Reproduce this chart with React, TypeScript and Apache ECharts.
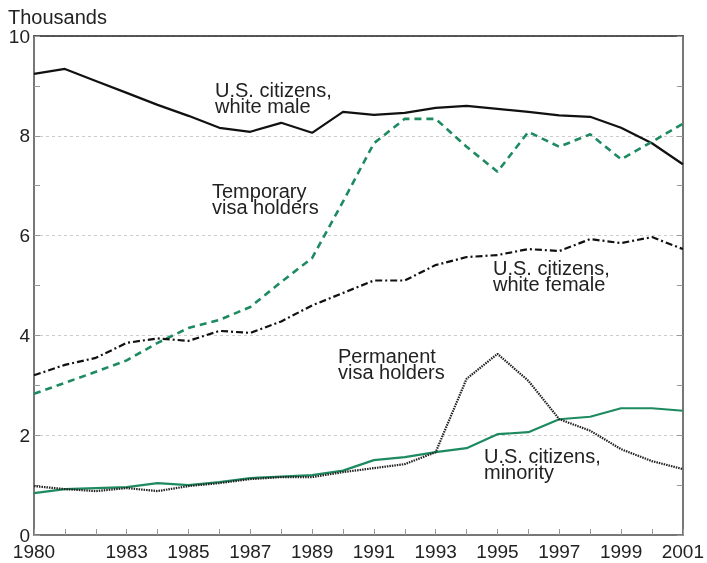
import React, { useEffect, useRef } from "react";
import * as echarts from "echarts";

const years = [1980, 1981, 1982, 1983, 1984, 1985, 1986, 1987, 1988, 1989, 1990, 1991, 1992, 1993, 1994, 1995, 1996, 1997, 1998, 1999, 2000, 2001];
const xTickLabels = [1980, 1983, 1985, 1987, 1989, 1991, 1993, 1995, 1997, 1999, 2001];
const yTickLabels = [0, 2, 4, 6, 8, 10];

const whiteMale = [9.24, 9.34, 9.1, 8.86, 8.62, 8.4, 8.16, 8.08, 8.26, 8.06, 8.48, 8.42, 8.46, 8.56, 8.6, 8.54, 8.48, 8.41, 8.38, 8.16, 7.85, 7.43];
const temporaryVisa = [2.83, 3.05, 3.27, 3.5, 3.85, 4.15, 4.31, 4.57, 5.07, 5.55, 6.68, 7.85, 8.34, 8.34, 7.78, 7.28, 8.08, 7.78, 8.03, 7.53, 7.88, 8.24];
const whiteFemale = [3.2, 3.41, 3.55, 3.85, 3.94, 3.89, 4.09, 4.05, 4.28, 4.6, 4.85, 5.1, 5.1, 5.41, 5.57, 5.61, 5.73, 5.69, 5.93, 5.85, 5.97, 5.73];
const minority = [0.84, 0.92, 0.94, 0.96, 1.04, 1.0, 1.06, 1.14, 1.17, 1.2, 1.29, 1.5, 1.56, 1.66, 1.74, 2.02, 2.06, 2.32, 2.37, 2.54, 2.54, 2.49];
const permanentVisa = [0.98, 0.92, 0.88, 0.94, 0.88, 0.98, 1.04, 1.12, 1.16, 1.16, 1.26, 1.34, 1.42, 1.66, 3.13, 3.63, 3.09, 2.32, 2.09, 1.72, 1.48, 1.32];

const GREEN = "#1d8a60";
const TEXT = "#222";
const FONT = "'Liberation Sans', Arial, sans-serif";

const pairs = (vals: number[]) => years.map((y, i) => [y, vals[i]]);

export default function App() {
  const ref = useRef<HTMLDivElement>(null);
  useEffect(() => {
    if (!ref.current) return;
    const chart = echarts.init(ref.current, undefined, { renderer: "svg" });
    const annot = (x: number, y: number, text: string) => ({
      type: "text",
      x,
      y,
      z: 10,
      style: { text, font: `20px ${FONT}`, fill: TEXT, lineHeight: 16, textVerticalAlign: "top" },
    });
    const yAxisBase = {
      type: "value",
      min: 0,
      max: 10,
      interval: 2,
      axisLine: { show: true, lineStyle: { color: "#777", width: 2 } },
      axisTick: { show: true, inside: true, length: 6, lineStyle: { color: "#999" } },
      minorTick: { show: true, splitNumber: 2, length: 6, lineStyle: { color: "#999" } },
    };
    chart.setOption({
      animation: false,
      textStyle: { fontFamily: FONT },
      grid: { left: 34, right: 24, top: 36, bottom: 28 },
      xAxis: [
        {
          type: "value",
          min: 1980,
          max: 2001,
          interval: 1,
          position: "bottom",
          axisLine: { show: true, lineStyle: { color: "#777", width: 2 } },
          axisTick: { show: true, inside: true, length: 6, lineStyle: { color: "#999" } },
          splitLine: { show: false },
          axisLabel: {
            fontSize: 19,
            color: TEXT,
            margin: 7,
            showMinLabel: true,
            showMaxLabel: true,
            formatter: (v: number) => (xTickLabels.includes(Math.round(v)) ? String(Math.round(v)) : ""),
          },
        },
        {
          type: "value",
          min: 1980,
          max: 2001,
          position: "top",
          axisLine: { show: true, onZero: false, lineStyle: { color: "#222", width: 1.5 } },
          axisTick: { show: false },
          axisLabel: { show: false },
          splitLine: { show: false },
        },
      ],
      yAxis: [
        {
          ...yAxisBase,
          position: "left",
          splitLine: { show: true, lineStyle: { color: "#ccc", type: [3, 3], width: 1 } },
          axisLabel: {
            fontSize: 19,
            color: TEXT,
            margin: 4,
            formatter: (v: number) => (yTickLabels.includes(v) ? String(v) : ""),
          },
        },
        {
          ...yAxisBase,
          position: "right",
          splitLine: { show: false },
          axisLabel: { show: false },
        },
      ],
      graphic: [
        { type: "text", x: 8, y: 7, style: { text: "Thousands", font: `20px ${FONT}`, fill: TEXT } },
        annot(215, 82, "U.S. citizens,\nwhite male"),
        annot(212, 183, "Temporary\nvisa holders"),
        annot(493, 260, "U.S. citizens,\nwhite female"),
        annot(338, 348, "Permanent\nvisa holders"),
        annot(484, 448, "U.S. citizens,\nminority"),
      ],
      series: [
        {
          name: "U.S. citizens, white male",
          type: "line",
          data: pairs(whiteMale),
          showSymbol: false,
          lineStyle: { color: "#111", width: 2.2 },
        },
        {
          name: "Temporary visa holders",
          type: "line",
          data: pairs(temporaryVisa),
          showSymbol: false,
          lineStyle: { color: GREEN, width: 2.6, type: [7, 5] },
        },
        {
          name: "U.S. citizens, white female",
          type: "line",
          data: pairs(whiteFemale),
          showSymbol: false,
          lineStyle: { color: "#111", width: 2.2, type: [7, 3, 2, 3] },
        },
        {
          name: "U.S. citizens, minority",
          type: "line",
          data: pairs(minority),
          showSymbol: false,
          lineStyle: { color: GREEN, width: 2.2 },
        },
        {
          name: "Permanent visa holders",
          type: "line",
          data: pairs(permanentVisa),
          showSymbol: false,
          lineStyle: { color: "#222", width: 2.2, type: [1.5, 1] },
        },
      ],
    });
    return () => chart.dispose();
  }, []);
  return <div ref={ref} style={{ position: "fixed", left: 0, top: 0, width: 707, height: 563 }} />;
}
